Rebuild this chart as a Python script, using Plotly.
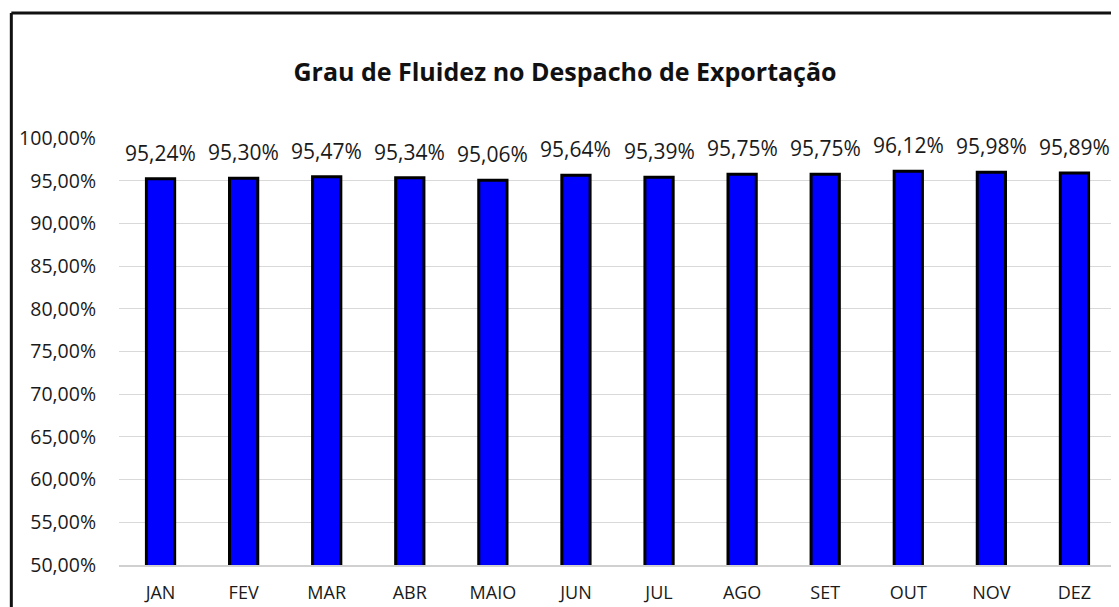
import plotly.graph_objects as go

months = ["JAN", "FEV", "MAR", "ABR", "MAIO", "JUN", "JUL", "AGO", "SET", "OUT", "NOV", "DEZ"]
values = [95.24, 95.30, 95.47, 95.34, 95.06, 95.64, 95.39, 95.75, 95.75, 96.12, 95.98, 95.89]
y_ticks = [50, 55, 60, 65, 70, 75, 80, 85, 90, 95, 100]
y_tick_labels = [f"{v:.2f}%".replace(".", ",") for v in y_ticks]
value_labels = [f"{v:.2f}%".replace(".", ",") for v in values]

W, H = 1119, 607
OFF = 8  # page body margin offset
L, T = 116 - OFF, 138 - OFF
R = W - (1116 - OFF)
B = H - (565 - OFF)
pw, ph = W - L - R, H - T - B

FONT = "Open Sans"

fig = go.Figure()
fig.add_trace(go.Bar(
    x=months, y=values,
    marker=dict(color="#0000FF", line=dict(color="#000000", width=3)),
    width=0.34,
    hoverinfo="x+y",
))

for m, v, lab in zip(months, values, value_labels):
    fig.add_annotation(x=m, y=v, text=lab, showarrow=False, yanchor="bottom",
                       yshift=10, font=dict(family=FONT, size=21, color="#1a1a1a"))

fig.update_layout(
    width=W, height=H,
    margin=dict(l=L, r=R, t=T, b=B),
    paper_bgcolor="white", plot_bgcolor="white",
    showlegend=False,
    title=dict(text="<b>Grau de Fluidez no Despacho de Exportação</b>",
               x=(565 - OFF) / W, xanchor="center", y=1 - (72 - OFF) / H, yanchor="middle",
               font=dict(family=FONT, size=25, color="#111111")),
    xaxis=dict(showgrid=False, showline=True, linecolor="#d0d0d0", linewidth=2,
               tickfont=dict(family=FONT, size=18, color="#1a1a1a"), ticks="",
               ticklabelstandoff=10),
    yaxis=dict(range=[50, 100], tickvals=y_ticks, ticktext=y_tick_labels,
               showgrid=True, gridcolor="#d9d9d9", gridwidth=1, zeroline=False,
               showline=False, ticks="",
               tickfont=dict(family=FONT, size=19.5, color="#1a1a1a"),
               ticklabelstandoff=22),
)

# chart frame (top and left edges visible in the reference)
x_left = (8 - OFF - L) / pw
y_top = (H - B - (13 - OFF)) / ph
fig.add_shape(type="line", xref="paper", yref="paper", x0=x_left, x1=1.1, y0=y_top, y1=y_top,
              line=dict(color="#111111", width=3))
fig.add_shape(type="line", xref="paper", yref="paper", x0=x_left, x1=x_left, y0=-0.2, y1=y_top,
              line=dict(color="#111111", width=3))

fig.write_html("out.html")
